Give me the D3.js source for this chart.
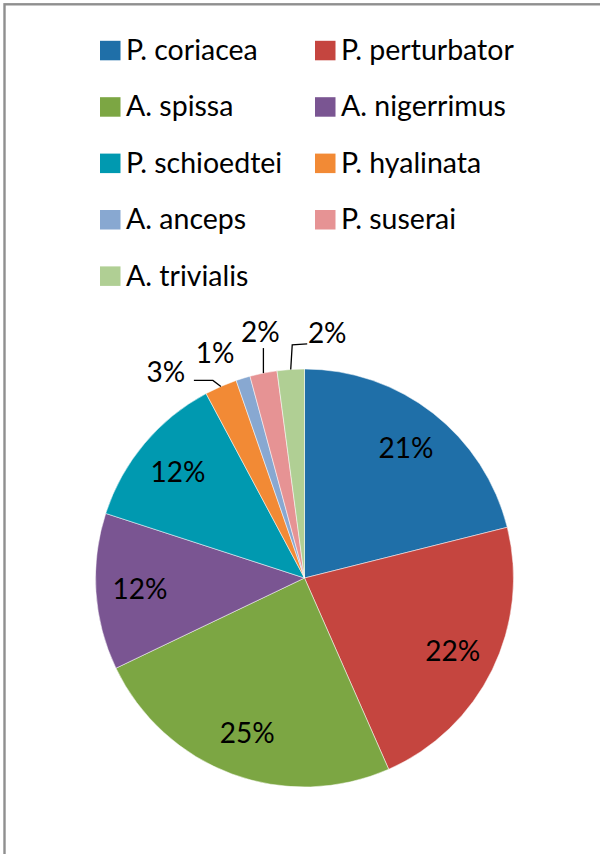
<!DOCTYPE html>
<html>
<head>
<meta charset="utf-8">
<script src="https://cdn.jsdelivr.net/npm/d3@7/dist/d3.min.js"></script>
<style>
  html, body { margin: 0; padding: 0; background: #fff; }
  svg { display: block; }
  text { font-family: Lato, "Open Sans", sans-serif; fill: #000; }
</style>
</head>
<body>
<svg id="chart" width="600" height="854"></svg>
<script>
// ---- data ----
const categories = ["P. coriacea", "P. perturbator", "A. spissa", "A. nigerrimus",
  "P. schioedtei", "P. hyalinata", "A. anceps", "P. suserai", "A. trivialis"];
const values = [21.1, 22.3, 24.5, 12.1, 12.2, 2.5, 1.1, 2.1, 2.1];
const colors = ["#1F6FA8", "#C5453F", "#7CA643", "#7A5592", "#0099B0",
  "#F28A35", "#88A8D1", "#E69394", "#B0CF94"];

// ---- layout ----
const W = 600, H = 854;
const cx = 304.5, cy = 578, R = 209;
const svg = d3.select("#chart");

// frame (cropped at right & bottom)
svg.append("rect").attr("x", 4.5).attr("y", 4.3).attr("width", 800).attr("height", 1000)
  .attr("fill", "none").attr("stroke", "#8f8f8f").attr("stroke-width", 2.4);

// legend
const legX = [100, 315], legY0 = 50.5, legDY = 56.4, sw = 20.5;
const leg = svg.append("g");
categories.forEach((c, i) => {
  const col = i % 2, row = Math.floor(i / 2);
  const x = legX[col], y = legY0 + row * legDY;
  leg.append("rect").attr("x", x).attr("y", y - 9.7).attr("width", sw).attr("height", 19.5)
    .attr("fill", colors[i]);
  leg.append("text").attr("x", x + 26).attr("y", y + 9.5).attr("font-size", 28.5)
    .text(c);
});

// pie
const pie = d3.pie().sort(null).value(d => d);
const arcs = pie(values);
const arc = d3.arc().innerRadius(0).outerRadius(R);
const labelArc = d3.arc().innerRadius(165).outerRadius(165);
const edgeArc = d3.arc().innerRadius(R).outerRadius(R);
const g = svg.append("g").attr("transform", `translate(${cx},${cy})`);

g.selectAll("path.slice").data(arcs).enter().append("path")
  .attr("class", "slice").attr("d", arc)
  .attr("fill", (d, i) => colors[i])
  .attr("stroke", "#ffffff").attr("stroke-width", 0.5);

const pct = v => Math.round(v) + "%";

// inside labels
arcs.forEach((d, i) => {
  if (values[i] < 5) return;
  const [x, y] = labelArc.centroid(d);
  g.append("text").attr("x", x).attr("y", y).attr("dy", "0.36em")
    .attr("text-anchor", "middle").attr("font-size", 28).text(pct(values[i]));
});

// outside labels: offsets from the slice edge point
const outside = {
  5: { t: [-55, -15], lead: [[-8, -6], [-27, -6]] },
  6: { t: [-28, -25], lead: [] },
  7: { t: [-3, -41], lead: [[0, -25]] },
  8: { t: [36.5, -36.5], lead: [[1.5, -24.5], [16.5, -25.5]] }
};
arcs.forEach((d, i) => {
  const o = outside[i];
  if (!o) return;
  const [ex, ey] = edgeArc.centroid(d);
  if (o.lead.length) {
    const pts = [[ex, ey]].concat(o.lead.map(p => [ex + p[0], ey + p[1]]));
    g.append("path").attr("d", d3.line()(pts)).attr("fill", "none")
      .attr("stroke", "#000").attr("stroke-width", 1.3);
  }
  g.append("text").attr("x", ex + o.t[0]).attr("y", ey + o.t[1]).attr("dy", "0.36em")
    .attr("text-anchor", "middle").attr("font-size", 28).text(pct(values[i]));
});
</script>
</body>
</html>
